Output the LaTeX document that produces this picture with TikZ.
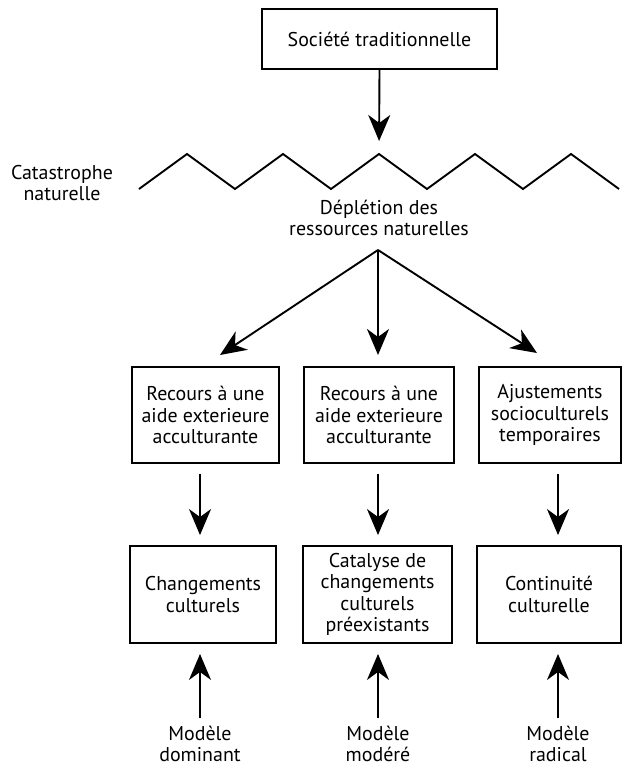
\documentclass[tikz,border=0pt]{standalone}
\usepackage{fontspec}
\setmainfont{PT Sans}
\usetikzlibrary{arrows.meta}
\begin{document}
\begin{tikzpicture}[x=1bp,y=-1bp,
  every node/.style={font=\fontsize{20}{21.5}\selectfont, align=center, inner sep=0pt},
  box/.style={draw, line width=1.9bp, minimum height=96bp},
  arr/.style={line width=1.9bp, -{Stealth[length=26bp,width=22bp,inset=8bp]}},
  zig/.style={line width=1.9bp, line join=miter}]
\useasboundingbox (0,0) rectangle (624,767);
% top box
\node[box, minimum width=235bp, minimum height=60bp] (top) at (379.5,39) {Société traditionnelle};
% zigzag
\coordinate (peak) at (379,154);
\draw[zig] (139,189) -- (187,154) -- (235,189) -- (283,154) -- (331,189) -- (peak)
  -- (427,189) -- (475,154) -- (523,189) -- (571,154) -- (619,189);
\node (cat) at (62,183) {Catastrophe\\naturelle};
\node (dep) at (379,218) {Déplétion des\\ressources naturelles};
\draw[arr, shorten >=13bp] (top.south) -- (peak);
% fan
\coordinate (fan) at (378,250);
\coordinate (t1) at (220,355);
\coordinate (t2) at (378,355);
\coordinate (t3) at (537,353);
\draw[arr] (fan) -- (t1);
\draw[arr] (fan) -- (t2);
\draw[arr] (fan) -- (t3);
% row 1
\node[box, minimum width=147bp] (r1a) at (205.5,415) {Recours à une\\aide exterieure\\acculturante};
\node[box, minimum width=150bp] (r1b) at (379,415) {Recours à une\\aide exterieure\\acculturante};
\node[box, minimum width=142bp] (r1c) at (550,415) {Ajustements\\socioculturels\\temporaires};
% row 2
\node[box, minimum width=146bp, minimum height=97bp] (r2a) at (203,594.5) {Changements\\culturels};
\node[box, minimum width=149bp, minimum height=97bp] (r2b) at (377.5,594.5) {Catalyse de\\changements\\culturels\\préexistants};
\node[box, minimum width=144bp, minimum height=97bp] (r2c) at (549,594.5) {Continuité\\culturelle};
% models
\node (m1) at (200,744) {Modèle\\dominant};
\node (m2) at (378,744) {Modèle\\modéré};
\node (m3) at (558,744) {Modèle\\radical};
% columns
\coordinate (c1) at (200,0);
\coordinate (c2) at (378,0);
\coordinate (c3) at (558,0);
\draw[arr, shorten <=10bp, shorten >=10bp] (r1a.south -| c1) -- (r2a.north -| c1);
\draw[arr, shorten <=10bp, shorten >=10bp] (r1b.south -| c2) -- (r2b.north -| c2);
\draw[arr, shorten <=10bp, shorten >=10bp] (r1c.south -| c3) -- (r2c.north -| c3);
\draw[arr, shorten <=8bp, shorten >=10bp] (m1.north) -- (r2a.south -| c1);
\draw[arr, shorten <=8bp, shorten >=10bp] (m2.north) -- (r2b.south -| c2);
\draw[arr, shorten <=8bp, shorten >=10bp] (m3.north) -- (r2c.south -| c3);
\end{tikzpicture}
\end{document}
